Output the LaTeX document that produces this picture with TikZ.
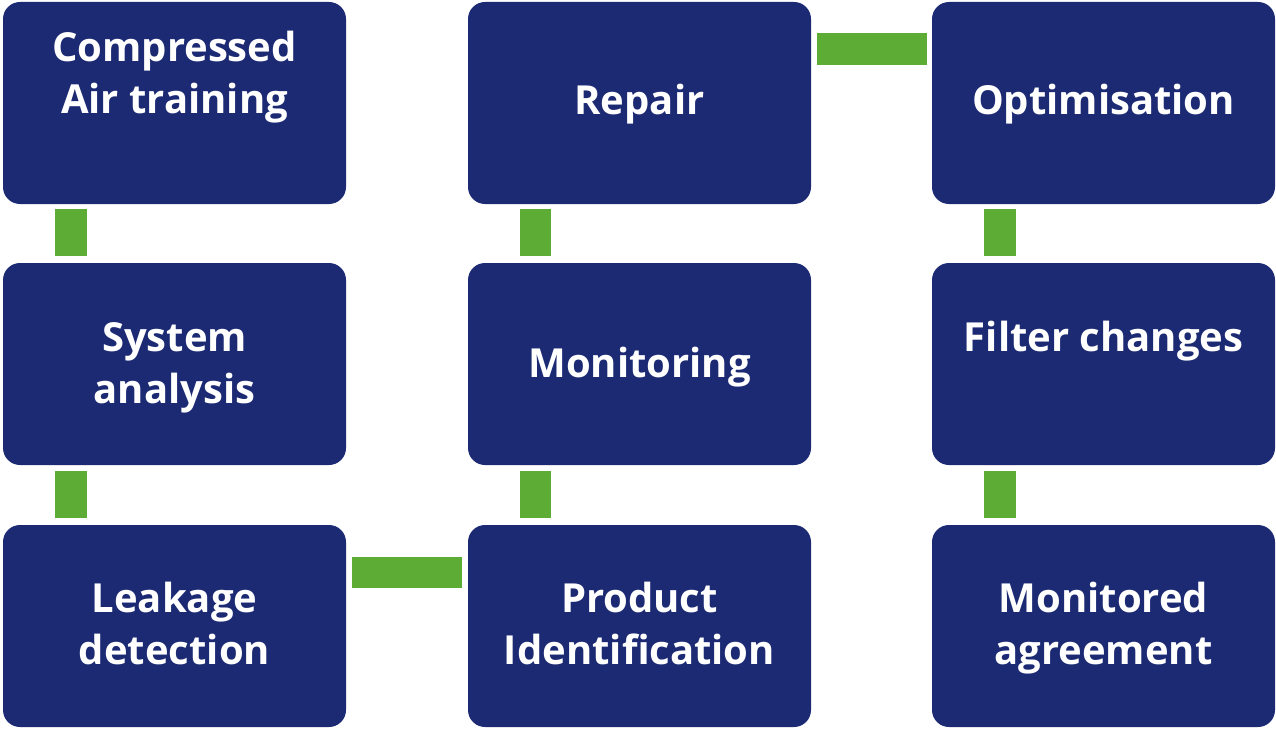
\documentclass[tikz,border=0pt]{standalone}
\usepackage{fontspec}
\setmainfont{Open Sans}
\definecolor{navy}{RGB}{28,42,115}
\definecolor{lgreen}{RGB}{93,172,54}
\begin{document}
\begin{tikzpicture}[x=1pt,y=-1pt,
  card/.style={fill=navy,rounded corners=17pt},
  lbl/.style={text=white,font=\fontsize{40}{52}\selectfont\bfseries,align=center,inner sep=0pt,text height=30pt,text depth=10pt},
  bar/.style={fill=lgreen}]
\useasboundingbox (0,0) rectangle (1276,730);
% cards
\fill[card] (3,2) rectangle (346,204);
\fill[card] (468,2) rectangle (811,204);
\fill[card] (932,2) rectangle (1275,204);
\fill[card] (3,263) rectangle (346,465);
\fill[card] (468,263) rectangle (811,465);
\fill[card] (932,263) rectangle (1275,465);
\fill[card] (3,525) rectangle (346,727);
\fill[card] (468,525) rectangle (811,727);
\fill[card] (932,525) rectangle (1275,727);
% labels
\node[lbl] (c1) at (174.5,104) {Compressed\\Air training};
\node[lbl] (r) at (639.5,105) {Repair};
\node[lbl] (o) at (1103.5,105) {Optimisation};
\node[lbl] (s) at (174.5,393) {System\\analysis};
\node[lbl] (m) at (639.5,367) {Monitoring};
\node[lbl] (f) at (1103.5,341) {Filter changes};
\node[lbl] (l) at (174.5,654) {Leakage\\detection};
\node[lbl] (p) at (639.5,654) {Product\\Identification};
\node[lbl] (ma) at (1103.5,654) {Monitored\\agreement};
% connectors
\fill[bar] (55,209) rectangle (87,256);
\fill[bar] (55,471) rectangle (87,518);
\fill[bar] (520,209) rectangle (551,256);
\fill[bar] (520,471) rectangle (551,518);
\fill[bar] (984,209) rectangle (1016,256);
\fill[bar] (984,471) rectangle (1016,518);
\fill[bar] (352,557) rectangle (462,588);
\fill[bar] (817,33) rectangle (927,65);
\end{tikzpicture}
\end{document}
